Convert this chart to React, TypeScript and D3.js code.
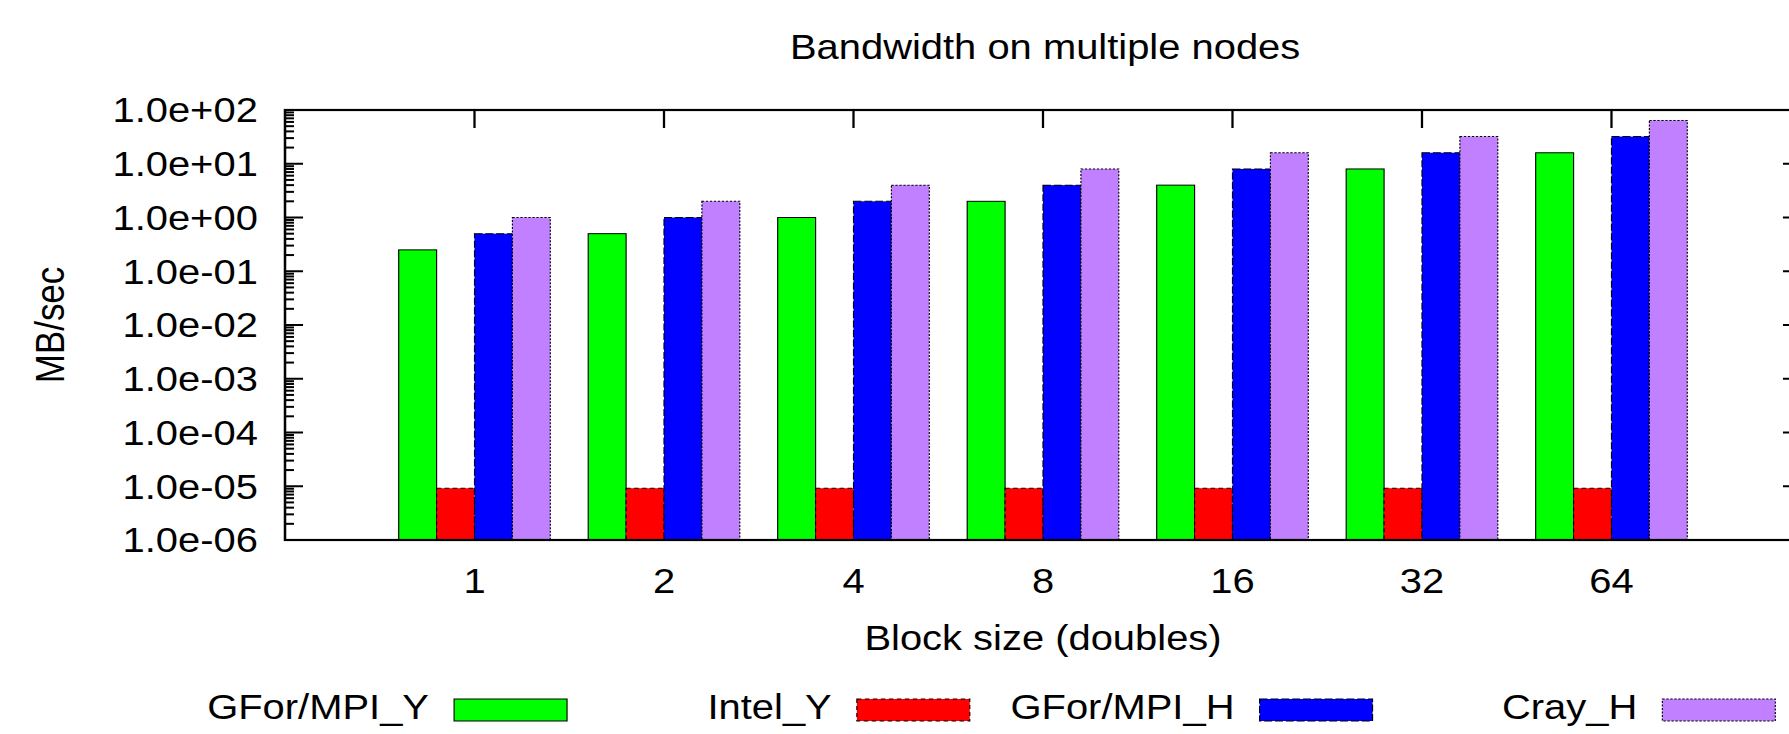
import * as d3 from "d3";

// block sizes on the x axis
const categories = ["1", "2", "4", "8", "16", "32", "64"];

// bandwidth, MB/sec
const gforMpiY = [0.25, 0.5, 1, 2, 4, 8, 16];
const intelY = [9.2e-6, 9.2e-6, 9.2e-6, 9.2e-6, 9.2e-6, 9.2e-6, 9.2e-6];
const gforMpiH = [0.5, 1, 2, 4, 8, 16, 32];
const crayH = [1, 2, 4, 8, 16, 32, 64];

const seriesNames = ["GFor/MPI_Y", "Intel_Y", "GFor/MPI_H", "Cray_H"];

const yTickValues = [1e-6, 1e-5, 1e-4, 1e-3, 1e-2, 1e-1, 1, 10, 100];
const yTickLabels = [
  "1.0e-06", "1.0e-05", "1.0e-04", "1.0e-03", "1.0e-02",
  "1.0e-01", "1.0e+00", "1.0e+01", "1.0e+02",
];

const colors = ["#00ff00", "#ff0000", "#0000ff", "#c080ff"];
const dashes = ["none", "4 3", "7 2.5", "2 1.5"];

// the picture is drawn in a 1568-wide frame and stretched to 1789
const VW = 1568;
const W = 1789;
const H = 734;

const marginLeft = 249.8;
const plotRight = 1578.5;
const marginTop = 110;
const plotBottom = 540;
const font = "'Liberation Sans', Arial, Helvetica, sans-serif";
const tickLen = 15.8; // horizontal tick length (view units)
const tickLenV = 18; // vertical tick length

const App = () => {
  const series = [gforMpiY, intelY, gforMpiH, crayH];

  const x = d3.scaleLinear().domain([-1, categories.length]).range([marginLeft, plotRight]);
  const y = d3.scaleLog().domain([1e-6, 1e2]).range([plotBottom, marginTop]);
  const slot = 0.2;

  // minor ticks 2..9 per decade
  const minorTicks: number[] = [];
  yTickValues.slice(0, -1).forEach((d) => {
    for (let m = 2; m <= 9; m++) minorTicks.push(d * m);
  });

  const legendX = (i: number) => 398 + i * 353;

  return (
    <svg
      width={W}
      height={H}
      viewBox={`0 0 ${VW} ${H}`}
      preserveAspectRatio="none"
      style={{ position: "absolute", left: 0, top: 0, background: "#fff" }}
      fontFamily={font}
    >
      <text x={916} y={59} fontSize={35} textAnchor="middle">
        Bandwidth on multiple nodes
      </text>

      {/* bottom x ticks (hidden behind bars) */}
      <g stroke="#000" strokeWidth={2}>
        {categories.map((c, i) => (
          <line key={c} x1={x(i)} x2={x(i)} y1={plotBottom} y2={plotBottom - tickLenV} />
        ))}
      </g>

      <g className="bars">
        {series.map((vals, s) =>
          vals.map((v, i) => {
            const x0 = x(i + (s - 2) * slot);
            const x1 = x(i + (s - 1) * slot);
            return (
              <rect
                key={`${s}-${i}`}
                x={x0}
                y={y(v)}
                width={x1 - x0}
                height={plotBottom - y(v)}
                fill={colors[s]}
                stroke="#000"
                strokeWidth={1}
                strokeDasharray={dashes[s]}
              />
            );
          })
        )}
      </g>

      {/* y ticks, left and mirrored on the right */}
      <g stroke="#000" strokeWidth={2}>
        {yTickValues.map((v) => (
          <g key={v}>
            <line x1={marginLeft} x2={marginLeft + tickLen} y1={y(v)} y2={y(v)} />
            <line x1={plotRight} x2={plotRight - tickLen} y1={y(v)} y2={y(v)} />
          </g>
        ))}
        {minorTicks.map((v) => (
          <g key={v}>
            <line x1={marginLeft} x2={marginLeft + tickLen / 2} y1={y(v)} y2={y(v)} />
            <line x1={plotRight} x2={plotRight - tickLen / 2} y1={y(v)} y2={y(v)} />
          </g>
        ))}
        {categories.map((c, i) => (
          <line key={c} x1={x(i)} x2={x(i)} y1={marginTop} y2={marginTop + tickLenV} />
        ))}
      </g>

      <rect
        x={marginLeft}
        y={marginTop}
        width={plotRight - marginLeft}
        height={plotBottom - marginTop}
        fill="none"
        stroke="#000"
        strokeWidth={2.2}
      />

      <g fontSize={35}>
        {yTickValues.map((v, i) => (
          <text key={v} x={226} y={y(v) + 12.5} textAnchor="end">
            {yTickLabels[i]}
          </text>
        ))}
        {categories.map((c, i) => (
          <text key={c} x={x(i)} y={593} textAnchor="middle">
            {c}
          </text>
        ))}
        <text x={x(3)} y={650} textAnchor="middle">
          Block size (doubles)
        </text>
        <text
          transform={`translate(56,${(marginTop + plotBottom) / 2}) rotate(-90)`}
          textAnchor="middle"
        >
          MB/sec
        </text>
      </g>

      <g className="legend" fontSize={35}>
        {seriesNames.map((name, s) => (
          <g key={name}>
            <text x={legendX(s) - 22} y={719} textAnchor="end">
              {name}
            </text>
            <rect
              x={legendX(s)}
              y={699}
              width={99}
              height={22}
              fill={colors[s]}
              stroke="#000"
              strokeWidth={1}
              strokeDasharray={dashes[s]}
            />
          </g>
        ))}
      </g>
    </svg>
  );
};

export default App;
